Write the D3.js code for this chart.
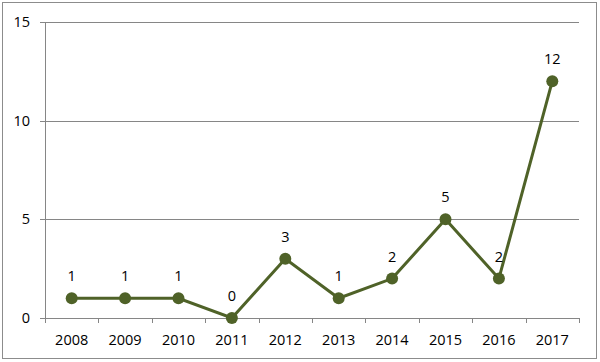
<!DOCTYPE html>
<meta charset="utf-8">
<style>
body { margin: 0; background: #fff; }
text { font: 14.5px "Open Sans", "Noto Sans", sans-serif; fill: #000; }
</style>
<body>
<script src="https://d3js.org/d3.v7.min.js"></script>
<script>
var years = ["2008", "2009", "2010", "2011", "2012", "2013", "2014", "2015", "2016", "2017"];
var counts = [1, 1, 1, 0, 3, 1, 2, 5, 2, 12];
var yTicks = [0, 5, 10, 15];

var W = 600, H = 362;
var margin = {top: 22, right: 21, bottom: 44, left: 45},
    width = W - margin.left - margin.right,
    height = H - margin.top - margin.bottom;

var svg = d3.select("body").append("svg")
    .attr("width", W)
    .attr("height", H);

svg.append("rect")
    .attr("x", 2.5).attr("y", 2.5)
    .attr("width", W - 6).attr("height", H - 6)
    .attr("fill", "#fff")
    .attr("stroke", "#8c8c8c")
    .attr("stroke-width", 1);

var g = svg.append("g")
    .attr("transform", "translate(" + margin.left + "," + margin.top + ")");

var x = d3.scaleBand().domain(years).range([0, width]);
var y = d3.scaleLinear().domain([0, 15]).range([height, 0]);

// gridlines
g.selectAll(".grid")
    .data(yTicks.filter(function(d) { return d > 0; }))
  .enter().append("line")
    .attr("x1", -5).attr("x2", width)
    .attr("y1", function(d) { return Math.round(y(d)) + 0.5; })
    .attr("y2", function(d) { return Math.round(y(d)) + 0.5; })
    .attr("stroke", "#868686");

// y axis
g.append("line")
    .attr("x1", 0.5).attr("x2", 0.5)
    .attr("y1", 0).attr("y2", height)
    .attr("stroke", "#868686");
g.selectAll(".ylab")
    .data(yTicks)
  .enter().append("text")
    .attr("x", -15)
    .attr("y", function(d) { return y(d); })
    .attr("dy", "0.35em")
    .attr("text-anchor", "end")
    .text(function(d) { return d; });

// x axis
g.append("line")
    .attr("x1", -5).attr("x2", width)
    .attr("y1", height + 0.5).attr("y2", height + 0.5)
    .attr("stroke", "#868686");
var bounds = years.map(function(d) { return x(d); }).concat([width]);
g.selectAll(".xtick")
    .data(bounds)
  .enter().append("line")
    .attr("x1", function(d) { return Math.round(d) + 0.5; })
    .attr("x2", function(d) { return Math.round(d) + 0.5; })
    .attr("y1", height).attr("y2", height + 5)
    .attr("stroke", "#868686");
g.selectAll(".xlab")
    .data(years)
  .enter().append("text")
    .attr("x", function(d) { return x(d) + x.bandwidth() / 2; })
    .attr("y", height + 22)
    .attr("dy", "0.35em")
    .attr("text-anchor", "middle")
    .text(function(d) { return d; });

var pts = years.map(function(d, i) { return {year: d, v: counts[i]}; });
var line = d3.line()
    .x(function(d) { return x(d.year) + x.bandwidth() / 2; })
    .y(function(d) { return y(d.v); });

g.append("path")
    .datum(pts)
    .attr("d", line)
    .attr("fill", "none")
    .attr("stroke", "#4f6228")
    .attr("stroke-width", 3);

g.selectAll(".dot")
    .data(pts)
  .enter().append("circle")
    .attr("cx", function(d) { return x(d.year) + x.bandwidth() / 2; })
    .attr("cy", function(d) { return y(d.v); })
    .attr("r", 6)
    .attr("fill", "#4f6228");

g.selectAll(".lab")
    .data(pts)
  .enter().append("text")
    .attr("x", function(d) { return x(d.year) + x.bandwidth() / 2; })
    .attr("y", function(d) { return y(d.v) - 22; })
    .attr("dy", "0.35em")
    .attr("text-anchor", "middle")
    .text(function(d) { return d.v; });
</script>
</body>
